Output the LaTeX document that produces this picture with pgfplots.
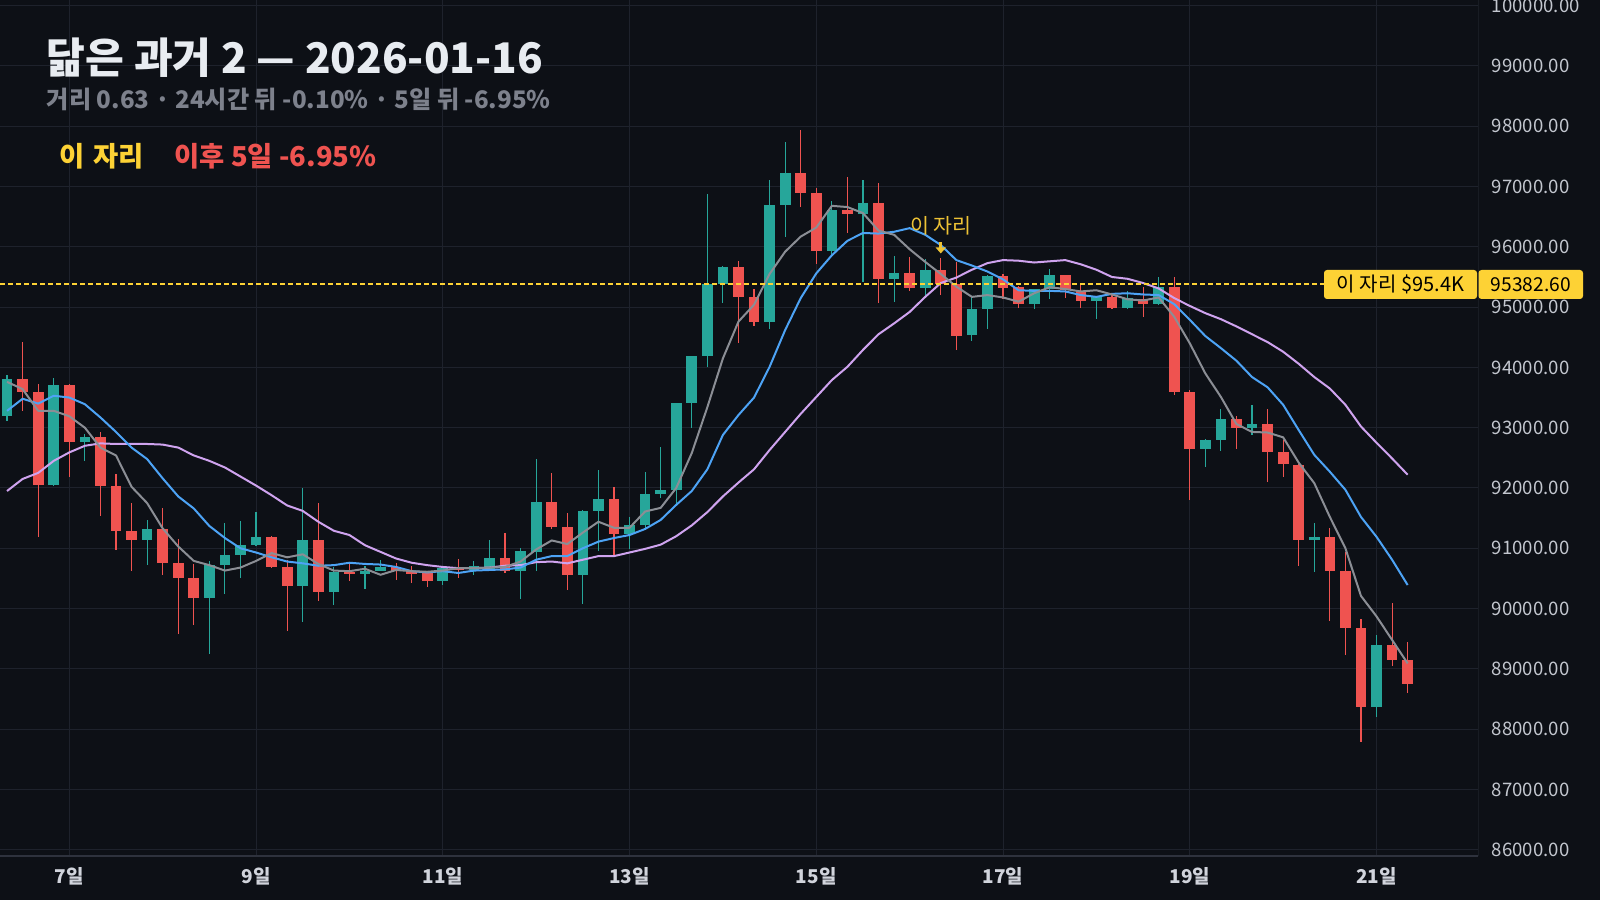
\documentclass[border=0pt]{standalone}
\usepackage{fontspec}
\setmainfont{Noto Sans CJK KR}
\usepackage{pgfplots}
\usepackage{pgfplotstable}
\pgfplotsset{compat=1.18}
\usetikzlibrary{arrows.meta}

\definecolor{bg}{HTML}{0D1016}
\definecolor{cGrid}{HTML}{1E222C}
\definecolor{cAxis}{HTML}{2E323D}
\definecolor{cUp}{HTML}{26A69A}
\definecolor{cDn}{HTML}{EF5350}
\definecolor{cGray}{HTML}{8B8E95}
\definecolor{cBlue}{HTML}{4DA3F5}
\definecolor{cPurp}{HTML}{CFA3EF}
\definecolor{cYel}{HTML}{FDD235}
\definecolor{cYel2}{HTML}{EDC235}
\definecolor{cTitle}{HTML}{E8ECF1}
\definecolor{cSub}{HTML}{7D818C}
\definecolor{cXT}{HTML}{D1D4DC}
\definecolor{cYT}{HTML}{C3C7CF}

% 4h candles, index 0 = 6일 08:00
\pgfplotstableread{
i o h l c
0 93200 93870 93120 93810
1 93810 94420 93280 93600
2 93600 93720 91190 92050
3 92050 93820 92040 93710
4 93710 93720 92190 92770
5 92770 92900 92450 92850
6 92850 92930 91540 92040
7 92040 92240 90980 91290
8 91290 91750 90630 91130
9 91130 91470 90730 91320
10 91320 91670 90550 90760
11 90760 91150 89570 90500
12 90500 90740 89720 90180
13 90180 90790 89250 90720
14 90720 91420 90240 90890
15 90890 91450 90510 91050
16 91050 91600 91040 91190
17 91190 91200 90680 90690
18 90690 90800 89630 90380
19 90380 92000 89780 91140
20 91140 91750 90130 90280
21 90280 90690 90060 90610
22 90610 90740 90460 90580
23 90580 90700 90330 90630
24 90630 90800 90620 90690
25 90690 90750 90480 90620
26 90620 90710 90430 90570
27 90610 90620 90350 90460
28 90460 90700 90390 90680
29 90670 90820 90510 90640
30 90640 90790 90550 90700
31 90650 91140 90640 90840
32 90840 91250 90590 90630
33 90630 91000 90160 90950
34 90940 92480 90630 91770
35 91770 92250 91320 91360
36 91360 91590 90310 90560
37 90560 91640 90080 91620
38 91620 92300 90960 91820
39 91820 92020 90880 91240
40 91240 91520 90990 91390
41 91390 92270 91300 91900
42 91900 92680 91840 91970
43 91970 93410 91720 93410
44 93410 94190 93000 94190
45 94190 96880 94010 95380
46 95380 95690 95070 95670
47 95670 95770 94410 95160
48 95160 95300 94690 94760
49 94760 97110 94640 96690
50 96690 97740 96170 97220
51 97220 97940 96670 96900
52 96900 96980 95720 95940
53 95940 96760 95890 96610
54 96610 97160 96230 96550
55 96550 97110 95410 96730
56 96730 97060 95070 95470
57 95470 95850 95090 95570
58 95570 95830 95270 95320
59 95320 95790 95150 95620
60 95620 95810 95200 95382.6
61 95382.6 95750 94290 94530
62 94530 95170 94440 94970
63 94970 95540 94630 95520
64 95520 95550 95130 95320
65 95330 95350 94990 95060
66 95060 95300 94970 95300
67 95300 95630 95140 95530
68 95530 95540 95160 95280
69 95260 95370 94990 95100
70 95100 95190 94810 95190
71 95170 95200 94970 94990
72 94990 95270 94970 95160
73 95130 95340 94840 95050
74 95050 95500 95030 95330
75 95330 95500 93540 93600
76 93600 93620 91800 92650
77 92650 92820 92340 92800
78 92800 93310 92620 93140
79 93140 93190 92650 93000
80 93000 93380 92880 93060
81 93060 93310 92100 92590
82 92590 92800 92190 92390
83 92390 92400 90710 91130
84 91130 91420 90610 91190
85 91190 91340 89800 90630
86 90630 90940 89230 89680
87 89680 89830 87790 88370
88 88370 89560 88210 89400
89 89400 90090 89040 89150
90 89150 89450 88600 88750
}\candles

% moving averages: g gray, b blue, p purple
\pgfplotstableread{
i g b p
0 93760 93280 91950
1 93640 93480 92150
2 93280 93400 92250
3 93280 93530 92450
4 93190 93500 92590
5 93000 93390 92700
6 92670 93170 92740
7 92540 92930 92730
8 92020 92670 92730
9 91750 92480 92730
10 91330 92160 92720
11 91030 91860 92670
12 90790 91660 92540
13 90720 91370 92450
14 90630 91170 92340
15 90680 91000 92190
16 90790 90930 92040
17 90920 90850 91880
18 90850 90780 91710
19 90900 90750 91620
20 90740 90710 91440
21 90630 90720 91290
22 90620 90760 91220
23 90660 90740 91050
24 90560 90730 90940
25 90640 90690 90830
26 90620 90620 90760
27 90610 90600 90720
28 90630 90620 90690
29 90670 90590 90670
30 90670 90630 90670
31 90680 90640 90680
32 90690 90650 90710
33 90780 90680 90720
34 90980 90810 90770
35 91130 90870 90780
36 91070 90870 90750
37 91260 91000 90810
38 91440 91110 90870
39 91340 91170 90870
40 91340 91220 90930
41 91610 91320 90990
42 91670 91470 91060
43 92000 91720 91200
44 92580 91950 91380
45 93340 92310 91600
46 94150 92880 91860
47 94760 93210 92090
48 95040 93500 92310
49 95550 94010 92630
50 95920 94620 92930
51 96170 95150 93230
52 96320 95560 93510
53 96680 95860 93790
54 96660 96100 94010
55 96560 96230 94290
56 96270 96220 94550
57 96200 96250 94730
58 95960 96310 94920
59 95750 96200 95170
60 95550 96030 95400
61 95340 95780 95490
62 95170 95690 95620
63 95200 95590 95730
64 95160 95460 95780
65 95090 95280 95770
66 95230 95270 95740
67 95330 95270 95760
68 95300 95260 95780
69 95260 95200 95710
70 95280 95170 95620
71 95210 95220 95500
72 95130 95230 95470
73 95110 95210 95400
74 95160 95200 95310
75 94840 95050 95150
76 94400 94790 95020
77 93900 94520 94900
78 93510 94320 94800
79 93060 94110 94680
80 92930 93840 94550
81 92920 93670 94420
82 92840 93380 94260
83 92420 92960 94060
84 92080 92550 93840
85 91520 92270 93650
86 91000 91970 93380
87 90210 91520 93020
88 89870 91190 92750
89 89480 90810 92490
90 89090 90390 92220
}\mas

\pgfplotsset{
  upc/.style={x filter/.expression={\thisrow{c}<\thisrow{o} ? nan : x}},
  dnc/.style={x filter/.expression={\thisrow{c}<\thisrow{o} ? x : nan}},
  wick/.style={draw=none, mark=none, forget plot,
    error bars/.cd, y dir=both, y explicit, error mark=none,
    error bar style={draw=#1, line width=0.55pt}},
  body/.style={draw=none, mark=none, forget plot,
    error bars/.cd, y dir=both, y explicit, error mark=none,
    error bar style={draw=#1, line width=5.35pt}},
}

\begin{document}
\begin{tikzpicture}
\fill[bg] (0pt,0pt) rectangle (800pt,450pt);
\begin{axis}[
    at={(0pt,22pt)}, anchor=south west,
    scale only axis, width=739.15pt, height=428pt,
    xmin=-0.453, xmax=94.54,
    ymin=85895.6, ymax=100094.5,
    axis line style={draw=none},
    major tick length=0pt,
    grid=major,
    major grid style={draw=cGrid, line width=0.5pt},
    xtick={4,16,...,88},
    xticklabels={7일,9일,11일,13일,15일,17일,19일,21일},
    xticklabel style={anchor=base, yshift=-13.65pt,
      font=\fontsize{9.5}{11}\selectfont\bfseries, text=cXT},
    ytick={86000,87000,...,100000},
    yticklabel pos=right,
    scaled y ticks=false,
    /pgf/number format/assume math mode=true,
    yticklabel style={anchor=west, xshift=3.3pt,
      font=\fontsize{9.3}{11}\selectfont, text=cYT,
      /pgf/number format/.cd, fixed, fixed zerofill, precision=2, 1000 sep={}},
]
    % wicks
    \addplot[upc, wick=cUp] table[x=i, y expr={(\thisrow{h}+\thisrow{l})/2},
        y error expr={(\thisrow{h}-\thisrow{l})/2}] {\candles};
    \addplot[dnc, wick=cDn] table[x=i, y expr={(\thisrow{h}+\thisrow{l})/2},
        y error expr={(\thisrow{h}-\thisrow{l})/2}] {\candles};
    % bodies
    \addplot[upc, body=cUp] table[x=i, y expr={(\thisrow{o}+\thisrow{c})/2},
        y error expr={max(abs(\thisrow{c}-\thisrow{o})/2,9)}] {\candles};
    \addplot[dnc, body=cDn] table[x=i, y expr={(\thisrow{o}+\thisrow{c})/2},
        y error expr={max(abs(\thisrow{c}-\thisrow{o})/2,9)}] {\candles};

    % moving averages
    \addplot[cPurp, line width=1pt, line join=round, mark=none] table[x=i, y=p] {\mas};
    \addplot[cBlue, line width=1pt, line join=round, mark=none] table[x=i, y=b] {\mas};
    \addplot[cGray, line width=1pt, line join=round, mark=none] table[x=i, y=g] {\mas};

    % reference level
    \addplot[cYel, line width=0.9pt, dash pattern=on 2.5pt off 1.5pt, forget plot]
        coordinates {(-0.453,95382.6) (84.62,95382.6)};

    \draw[cYel2, line width=1.6pt, -{Triangle[width=5pt,length=3pt]}]
        (axis cs:60,96080) -- (axis cs:60,95890);
    \node[text=cYel2, font=\fontsize{10.3}{12}\selectfont] at (axis cs:60,96346) {이 자리};

    \draw[cAxis, line width=0.7pt] (rel axis cs:1,0) -- (rel axis cs:1,1);
    \draw[cAxis, line width=0.7pt] (rel axis cs:0,0) -- (rel axis cs:1,0);
\end{axis}

\begin{scope}[x=0.5pt, y=-0.5pt, shift={(0pt,450pt)}]
  \node[anchor=base west, inner sep=0pt, text=cTitle,
    font=\fontsize{21.1}{25}\selectfont\bfseries] at (46.4,73.3) {닮은 과거 2 — 2026-01-16};
  \node[anchor=base west, inner sep=0pt, text=cSub,
    font=\fontsize{12.1}{15}\selectfont\bfseries] at (46.4,108.3)
    {거리 0.63 · 24시간 뒤 -0.10\% · 5일 뒤 -6.95\%};
  \node[anchor=base west, inner sep=0pt, text=cYel,
    font=\fontsize{13.7}{16}\selectfont\bfseries] at (59,166.7) {이\hspace{0.1em} 자리};
  \node[anchor=base west, inner sep=0pt, text=cDn,
    font=\fontsize{13.7}{16}\selectfont\bfseries] at (174,166.7) {이후 5일 -6.95\%};

  \fill[cYel, rounded corners=1.5pt] (1324,270) rectangle (1477,299);
  \node[text=black, font=\fontsize{10}{12}\selectfont] at (1400.5,284.5) {이 자리 \$95.4K};
  \fill[cYel, rounded corners=1.5pt] (1478.5,270) rectangle (1583,299);
  \node[text=black, font=\fontsize{9.6}{11}\selectfont] at (1530.7,284.5) {95382.60};
\end{scope}
\pgfresetboundingbox
\path (0pt,0pt) rectangle (800pt,450pt);
\end{tikzpicture}
\end{document}
